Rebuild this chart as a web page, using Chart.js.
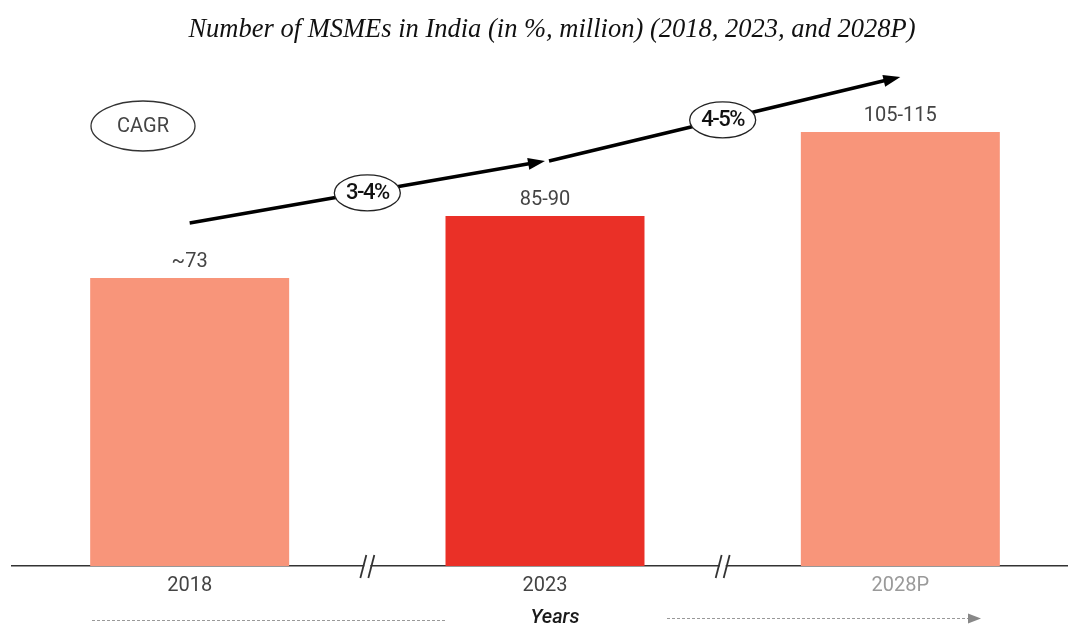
<!DOCTYPE html>
<html>
<head>
<meta charset="utf-8">
<script src="https://cdn.jsdelivr.net/npm/chart.js@4.4.1/dist/chart.umd.min.js"></script>
<style>
  html, body { margin: 0; padding: 0; background: #fff; overflow: hidden; }
  #wrap { width: 1080px; height: 627px; }
</style>
</head>
<body>
<div id="wrap"><canvas id="msmeChart" width="1080" height="627"></canvas></div>
<script>
// Data
const categories = ['2018', '2023', '2028P'];
const msmeValues = [73, 88.7, 110];
const valueLabels = ['~73', '85-90', '105-115'];
const cagrLabels = ['3-4%', '4-5%'];
const barColors = ['#F8957A', '#EA3027', '#F8957A'];
const tickColors = ['#444', '#444', '#9a9a9a'];

const titleText = 'Number of MSMEs in India (in %, million) (2018, 2023, and 2028P)';

// Draws the annotations: labels, CAGR arrows, axis breaks, footer
const annotations = {
  id: 'annotations',
  afterDraw(chart) {
    const ctx = chart.ctx;
    const bars = chart.getDatasetMeta(0).data;
    const axisY = chart.chartArea.bottom;
    ctx.save();

    // title
    ctx.fillStyle = '#111';
    ctx.font = 'italic 26.5px "Liberation Serif"';
    ctx.textAlign = 'center';
    ctx.textBaseline = 'middle';
    ctx.fillText(titleText, 552, 30);

    // value labels above bars
    ctx.font = '20px Roboto';
    ctx.fillStyle = '#444';
    bars.forEach(function (bar, i) {
      ctx.fillText(valueLabels[i], bar.x, bar.y - 16);
    });

    // CAGR legend bubble
    ctx.beginPath();
    ctx.ellipse(143, 126, 52, 25, 0, 0, Math.PI * 2);
    ctx.fillStyle = '#fff';
    ctx.fill();
    ctx.strokeStyle = '#333';
    ctx.lineWidth = 1.3;
    ctx.stroke();
    ctx.fillStyle = '#444';
    ctx.fillText('CAGR', 143, 127);

    // CAGR arrows between bars
    const pts = bars.map(function (bar) { return { x: bar.x, y: bar.y - 55 }; });
    for (let i = 0; i < pts.length - 1; i++) {
      const a = pts[i], b = pts[i + 1];
      const ang = Math.atan2(b.y - a.y, b.x - a.x);
      const head = 17;
      ctx.strokeStyle = '#000';
      ctx.fillStyle = '#000';
      ctx.lineWidth = 3.5;
      ctx.beginPath();
      ctx.moveTo(a.x + (i ? 4 : 0), a.y);
      ctx.lineTo(b.x - head * Math.cos(ang) * 0.8, b.y - head * Math.sin(ang) * 0.8);
      ctx.stroke();
      ctx.beginPath();
      ctx.moveTo(b.x, b.y);
      ctx.lineTo(b.x - head * Math.cos(ang) + 6 * Math.sin(ang), b.y - head * Math.sin(ang) - 6 * Math.cos(ang));
      ctx.lineTo(b.x - head * Math.cos(ang) - 6 * Math.sin(ang), b.y - head * Math.sin(ang) + 6 * Math.cos(ang));
      ctx.closePath();
      ctx.fill();

      const mx = (a.x + b.x) / 2, my = (a.y + b.y) / 2 + 1;
      ctx.beginPath();
      ctx.ellipse(mx, my, 33, 18, 0, 0, Math.PI * 2);
      ctx.fillStyle = '#fff';
      ctx.fill();
      ctx.strokeStyle = '#222';
      ctx.lineWidth = 1.3;
      ctx.stroke();
      ctx.fillStyle = '#111';
      ctx.font = '500 22px Roboto';
      ctx.letterSpacing = '-1.5px';
      ctx.fillText(cagrLabels[i], mx, my + 1);
      ctx.letterSpacing = '0px';
    }

    // axis breaks
    for (let i = 0; i < bars.length - 1; i++) {
      const bx = (bars[i].x + bars[i + 1].x) / 2;
      ctx.fillStyle = '#fff';
      ctx.fillRect(bx - 3, axisY - 3, 6, 6);
      ctx.strokeStyle = '#333';
      ctx.lineWidth = 1.8;
      [-4, 4].forEach(function (dx) {
        ctx.beginPath();
        ctx.moveTo(bx + dx + 3, axisY - 11);
        ctx.lineTo(bx + dx - 3, axisY + 12);
        ctx.stroke();
      });
    }

    // footer: Years with dotted arrows
    ctx.fillStyle = '#1a1a1a';
    ctx.font = 'italic 500 20px Roboto';
    ctx.fillText('Years', 555, 618);
    ctx.strokeStyle = '#999';
    ctx.lineWidth = 1;
    ctx.setLineDash([3, 2]);
    ctx.beginPath();
    ctx.moveTo(92, 620.5);
    ctx.lineTo(447, 620.5);
    ctx.moveTo(667, 618.5);
    ctx.lineTo(970, 618.5);
    ctx.stroke();
    ctx.setLineDash([]);
    ctx.fillStyle = '#888';
    ctx.beginPath();
    ctx.moveTo(981, 618.5);
    ctx.lineTo(968, 613.5);
    ctx.lineTo(968, 623.5);
    ctx.closePath();
    ctx.fill();

    ctx.restore();
  }
};

new Chart(document.getElementById('msmeChart'), {
  type: 'bar',
  data: {
    labels: categories,
    datasets: [{
      data: msmeValues,
      backgroundColor: barColors,
      borderWidth: 0,
      categoryPercentage: 1,
      barPercentage: 0.56
    }]
  },
  options: {
    responsive: false,
    animation: false,
    layout: { padding: { left: 12, right: 2, top: 53, bottom: 0 } },
    plugins: {
      legend: { display: false },
      tooltip: { enabled: false }
    },
    scales: {
      x: {
        grid: { display: false, drawTicks: false },
        border: { color: '#333', width: 1.5 },
        ticks: {
          padding: 8,
          font: { family: 'Roboto', size: 20 },
          color: function (c) { return tickColors[c.index]; }
        },
        afterFit: function (scale) { scale.height = 61; }
      },
      y: {
        display: false,
        min: 0,
        max: 130
      }
    }
  },
  plugins: [annotations]
});
</script>
</body>
</html>
